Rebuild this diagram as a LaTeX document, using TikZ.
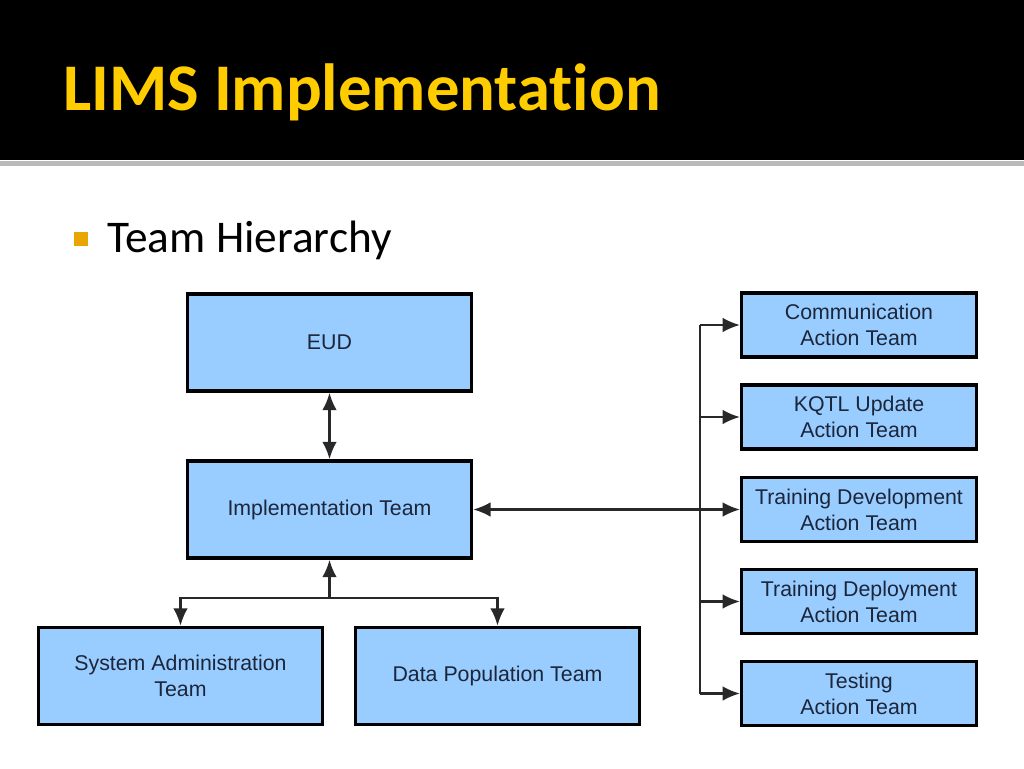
\documentclass[tikz,border=0pt]{standalone}
\usepackage{fontspec}
\setmainfont{Liberation Sans}
\newfontfamily\slidefont[Ligatures=NoCommon]{Carlito}
\usepackage{tikz}
\usetikzlibrary{arrows.meta}
\definecolor{titleyellow}{RGB}{255,204,0}
\definecolor{bulletorange}{RGB}{235,165,0}
\definecolor{boxblue}{RGB}{153,204,255}
\definecolor{boxtext}{RGB}{28,38,58}
\definecolor{linegray}{RGB}{40,40,40}

\begin{document}
\begin{tikzpicture}[x=0.75pt, y=-0.75pt,
  tip/.tip={Latex[length=13pt,width=11pt]},
  teambox/.style={draw=black, line width=2.6pt, fill=boxblue, text=boxtext,
    align=center, font=\fontsize{16}{19.5}\selectfont, inner sep=0pt},
  bigbox/.style={teambox, minimum width=213pt, minimum height=73pt},
  smallbox/.style={teambox, minimum width=176pt, minimum height=48pt},
  link/.style={draw=linegray, line width=1.6pt}]
\useasboundingbox (0,0) rectangle (1024,768);
\fill[white] (0,0) rectangle (1024,768);

% title band
\fill[black] (0,0) rectangle (1024,160);
\fill[gray!55] (0,161) rectangle (1024,166);
\node[anchor=base west, inner sep=0pt, text=titleyellow,
  font=\slidefont\bfseries\fontsize{50}{60}\selectfont] (title) at (63,110) {LIMS Implementation};

% bullet
\fill[bulletorange] (74,232) rectangle (88,246);
\node[anchor=base west, inner sep=0pt, font=\slidefont\fontsize{34}{40}\selectfont] (bullet) at (107,252) {Team Hierarchy};

% left tree
\node[bigbox] (eud) at (329.5,342.5) {EUD};
\node[bigbox] (impl) at (329.5,509.5) {Implementation Team};
\node[bigbox] (sysadm) at (180.5,676) {System Administration\\Team};
\node[bigbox] (datapop) at (497.5,676) {Data Population Team};

% action teams
\node[smallbox] (comm) at (859,325) {Communication\\Action Team};
\node[smallbox] (kqtl) at (859,417) {KQTL Update\\Action Team};
\node[smallbox] (trdev) at (859,509.5) {Training Development\\Action Team};
\node[smallbox] (trdep) at (859,601.5) {Training Deployment\\Action Team};
\node[smallbox] (test) at (859,693.5) {Testing\\Action Team};

\coordinate (jn) at (329.5,598);
\coordinate (trunk) at (700,0);

\draw[link,tip-tip] (eud.south) -- (impl.north);
\draw[link,-tip] (jn) -- (impl.south);
\draw[link,-tip] (jn) -| (sysadm.north);
\draw[link,-tip] (jn) -| (datapop.north);

\draw[link,tip-tip] (impl.east) -- (trdev.west);
\draw[link] (trunk |- comm.west) -- (trunk |- test.west);
\foreach \t in {comm,kqtl,trdep,test}
  \draw[link,-tip] (trunk |- \t.west) -- (\t.west);
\end{tikzpicture}
\end{document}
